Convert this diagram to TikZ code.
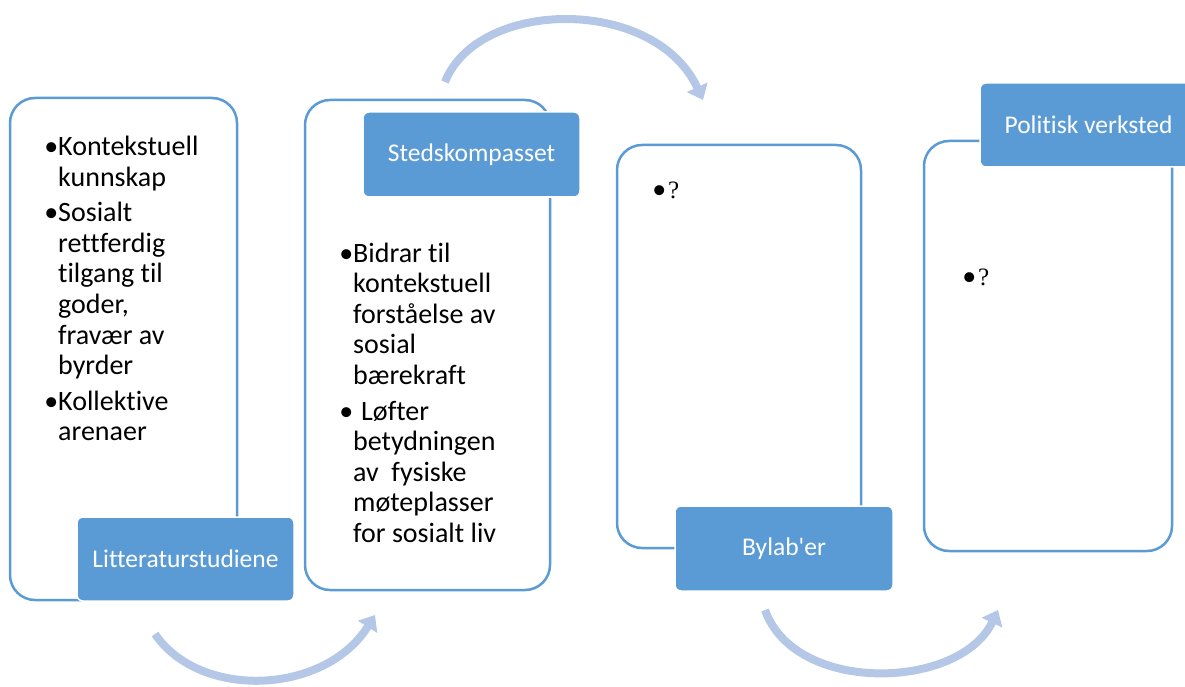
\documentclass[tikz,border=0pt]{standalone}
\usepackage{fontspec}
\setmainfont{Carlito}[Ligatures={NoCommon}]
\newfontfamily\qfont{Liberation Serif}
\usetikzlibrary{arrows.meta}
\definecolor{accent}{HTML}{5B9BD5}
\definecolor{arrowblue}{HTML}{B4C7E7}
\newcommand{\itemlines}[1]{\vtop{\halign{##\hfil\cr#1\crcr}}}
\begin{document}
\begin{tikzpicture}[x=1pt,y=-1pt,
  outline/.style={draw=accent, line width=2.5pt, rounded corners=25pt, fill=white, inner sep=0pt},
  labelbox/.style={draw=white, line width=1.5pt, fill=accent, rounded corners=6pt, text=white, inner sep=0pt,
    font=\fontsize{25.5}{30}\selectfont},
  item/.style={anchor=base west, inner sep=0pt, font=\fontsize{28}{30.5}\selectfont},
  qitem/.style={anchor=base west, inner sep=0pt, font=\fontsize{28}{30}\selectfont},
  flow/.style={draw=arrowblue, line width=8pt, -{Triangle[width=22pt,length=14pt]}}
]
\useasboundingbox (0,0) rectangle (1185,687);

% connectors
\coordinate (a1s) at (155,634);
\coordinate (a1e) at (375,615);
\coordinate (a2s) at (445,82);
\coordinate (a2e) at (703,100);
\coordinate (a3s) at (765,610);
\coordinate (a3e) at (998,610);
\draw[flow] (a1s) .. controls (200,700) and (325,695) .. (a1e);
\draw[flow] (a2s) .. controls (478,-2) and (655,-4) .. (a2e);
\draw[flow] (a3s) .. controls (795,695) and (960,690) .. (a3e);

% box 1
\node[outline, minimum width=227pt, minimum height=502pt] (b1) at (123.5,349) {};
\node[item] (t1a) at (58,156) {\itemlines{\llap{•}Kontekstuell\cr kunnskap}};
\node[item] (t1b) at (58,222) {\itemlines{\llap{•}Sosialt\cr rettferdig\cr tilgang til\cr goder,\cr fravær av\cr byrder}};
\node[item] (t1c) at (58,410) {\itemlines{\llap{•}Kollektive\cr arenaer}};
\node[labelbox, minimum width=217pt, minimum height=84pt] (l1) at (185.5,559) {Litteraturstudiene};

% box 2
\node[outline, minimum width=245pt, minimum height=490pt] (b2) at (427.5,345) {};
\node[item] (t2a) at (353,262) {\itemlines{\llap{•}Bidrar til\cr kontekstuell\cr forståelse av\cr sosial\cr bærekraft}};
\node[item] (t2b) at (353,420) {\itemlines{\llap{•}\hspace*{8pt}Løfter\cr betydningen\cr av\ \ fysiske\cr møteplasser\cr for sosialt liv}};
\node[labelbox, minimum width=217pt, minimum height=85pt] (l2) at (471.5,154.5) {Stedskompasset};

% box 3
\node[outline, minimum width=244pt, minimum height=403pt] (b3) at (739,346.5) {};
\node[qitem] (t3) at (668,199) {\llap{•\hspace{2pt}}{\qfont\fontsize{25}{28}\selectfont ?}};
\node[labelbox, minimum width=218pt, minimum height=85pt] (l3) at (784,548.5) {Bylab\textquotesingle er};

% box 4
\node[outline, minimum width=248pt, minimum height=410pt] (b4) at (1048,346) {};
\node[qitem] (t4) at (978,285) {\llap{•\hspace{2pt}}{\qfont\fontsize{25}{28}\selectfont ?}};
\node[labelbox, minimum width=217pt, minimum height=84pt] (l4) at (1088.5,125) {Politisk verksted};
\end{tikzpicture}
\end{document}
